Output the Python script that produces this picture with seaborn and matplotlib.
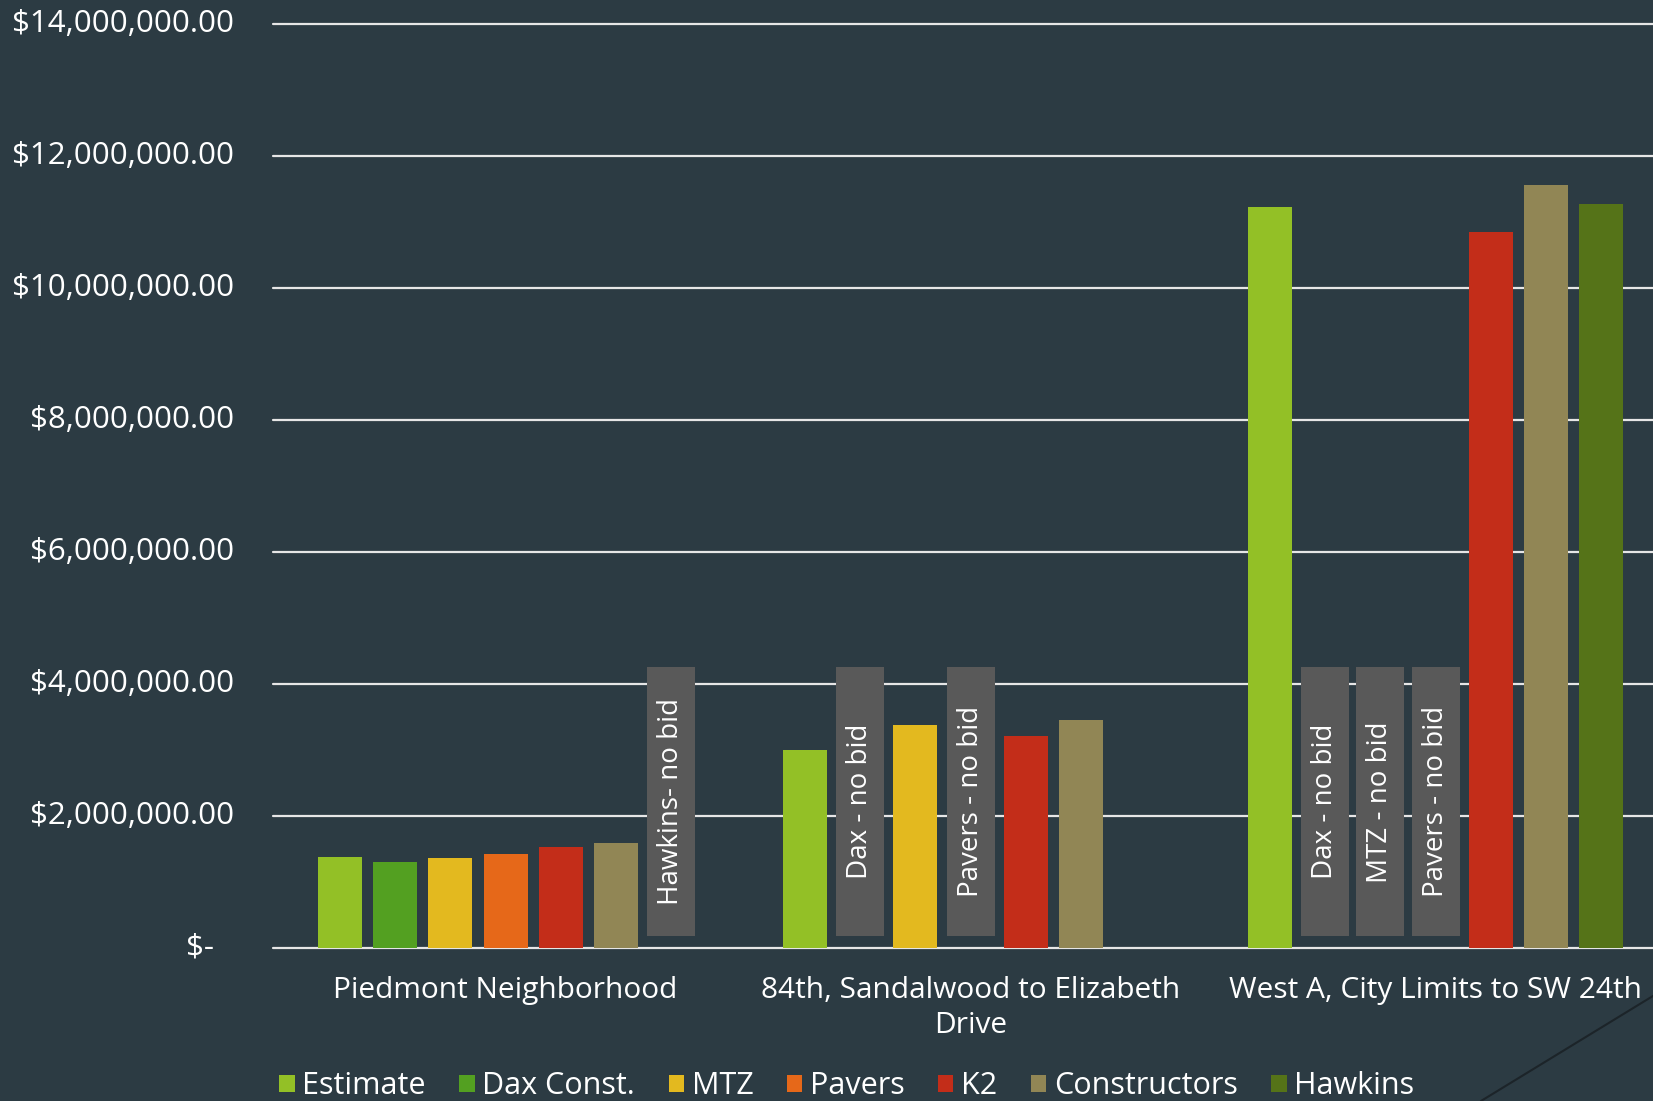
import numpy as np
import pandas as pd
import matplotlib.pyplot as plt
import matplotlib.transforms as mtransforms
from matplotlib.patches import Patch
from matplotlib.lines import Line2D
import seaborn as sns

# Chart data
projects = ["Piedmont Neighborhood",
            "84th, Sandalwood to Elizabeth Drive",
            "West A, City Limits to SW 24th"]
project_labels = ["Piedmont Neighborhood",
                  "84th, Sandalwood to Elizabeth\nDrive",
                  "West A, City Limits to SW 24th"]
bidders = ["Estimate", "Dax Const.", "MTZ", "Pavers", "K2", "Constructors", "Hawkins"]
piedmont = [1380000, 1300000, 1360000, 1420000, 1530000, 1590000, np.nan]
sandalwood = [3000000, np.nan, 3380000, np.nan, 3210000, 3460000, np.nan]
west_a = [11230000, np.nan, np.nan, np.nan, 10850000, 11560000, 11280000]
colors = ["#93C026", "#53A021", "#E3B91F", "#E66819", "#C32D19", "#918655", "#557318"]

# "no bid" call-outs
nobid_project = [0, 1, 1, 2, 2, 2]
nobid_bidder = ["Hawkins", "Dax Const.", "Pavers", "Dax Const.", "MTZ", "Pavers"]
nobid_text = ["Hawkins- no bid", "Dax - no bid", "Pavers - no bid",
              "Dax - no bid", "MTZ - no bid", "Pavers - no bid"]
nobid_top = 4250000
nobid_bottom = 180000

yticks = [0, 2e6, 4e6, 6e6, 8e6, 10e6, 12e6, 14e6]
ytick_labels = ["$-", "$2,000,000.00", "$4,000,000.00", "$6,000,000.00",
                "$8,000,000.00", "$10,000,000.00", "$12,000,000.00", "$14,000,000.00"]

rows = []
for proj, vals in zip(projects, [piedmont, sandalwood, west_a]):
    for b, v in zip(bidders, vals):
        rows.append({"Project": proj, "Bidder": b, "Bid": v})
df = pd.DataFrame(rows)

bg = "#2C3B43"
sns.set_style("white")
plt.rcParams["font.family"] = ["Open Sans", "DejaVu Sans"]

fig = plt.figure(figsize=(16.53, 11.01), dpi=100, facecolor=bg)
ax = fig.add_axes([0.1652, 0.1390, 0.8439, 0.8392], facecolor=bg)

width = 0.83
sns.barplot(data=df, x="Project", y="Bid", hue="Bidder", order=projects,
            hue_order=bidders, palette=colors, width=width, gap=0.2,
            errorbar=None, saturation=1, legend=False, ax=ax, zorder=2,
            linewidth=0)

ax.set_ylim(0, 14e6)
ax.set_xlim(-0.5, 2.5)
ax.set_yticks(yticks)
ax.set_yticklabels([])
ax.yaxis.grid(True, color="#E6E6E6", linewidth=1.6)
for gl in ax.yaxis.get_gridlines():
    gl.set_clip_on(False)
ax.set_axisbelow(True)
for s in ax.spines.values():
    s.set_visible(False)
ax.tick_params(axis="y", length=0)
ax.set_xlabel("")
ax.set_ylabel("")
ax.set_xticks(range(len(projects)))
ax.set_xticklabels(project_labels, linespacing=1.3)
ax.tick_params(axis="x", length=0, pad=20, labelsize=21.5, labelcolor="white")

# y labels (accounting style, "$-" sits further left)
trans = mtransforms.blended_transform_factory(ax.transAxes, ax.transData)
for v, lab in zip(yticks, ytick_labels):
    xpos = -0.0423 if v == 0 else -0.028
    ax.text(xpos, v, lab, transform=trans, ha="right", va="center",
            fontsize=22.5, color="white")

# no-bid boxes
slot = width / len(bidders)
for p, b, t in zip(nobid_project, nobid_bidder, nobid_text):
    xc = p - width / 2 + (bidders.index(b) + 0.5) * slot
    ax.bar(xc, nobid_top - nobid_bottom, bottom=nobid_bottom, width=slot * 0.87,
           color="#595959", linewidth=0, zorder=3)
    ax.text(xc, (nobid_top + nobid_bottom) / 2, t, rotation=90, ha="center",
            va="center", color="white", fontsize=20, zorder=4)

handles = [Patch(facecolor=c, edgecolor="none") for c in colors]
fig.legend(handles, bidders, loc="center left", bbox_to_anchor=(0.169, 0.0135),
           ncol=7, frameon=False, fontsize=22, handlelength=0.5, handleheight=0.5,
           handletextpad=0.25, columnspacing=1.1, labelcolor="white",
           borderpad=0, borderaxespad=0)

fig.add_artist(Line2D([1481 / 1653, 1.0], [0, 0.0954], transform=fig.transFigure,
                      color="#1C2429", lw=1.5))

fig.savefig("out.png", dpi=100, facecolor=bg)
